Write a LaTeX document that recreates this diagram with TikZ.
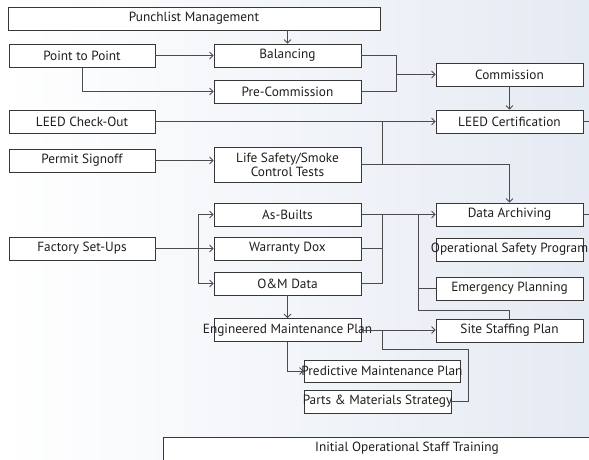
\documentclass[tikz,border=0pt]{standalone}
\usepackage{fontspec}
\setmainfont{PT Sans}
\usetikzlibrary{arrows.meta}
\definecolor{bgblue}{RGB}{216,224,237}
\definecolor{boxline}{RGB}{55,55,55}
\definecolor{conline}{RGB}{75,75,75}
\definecolor{txt}{RGB}{30,30,30}
\pgfdeclarehorizontalshading{bgshade}{100bp}{color(0bp)=(white); color(25bp)=(white); color(100bp)=(bgblue)}
\newcommand{\zw}[1]{\makebox[0pt]{#1}}
\begin{document}
\begin{tikzpicture}[x=1pt,y=-1pt,
  box/.style={draw=boxline, line width=0.8pt, fill=white, minimum width=147pt, minimum height=23pt, inner sep=0pt, text=txt, font=\fontsize{13.3}{14}\selectfont},
  con/.style={draw=conline, line width=0.8pt},
  arr/.style={con, -{Straight Barb[length=3.5pt,width=7pt]}}]
\useasboundingbox (0,0) rectangle (589,460);
\shade[shading=bgshade] (0,0) rectangle (589,460);
% nodes
\node[box, minimum width=372pt] (punch) at (194,18.5) {\zw{Punchlist Management}};
\node[box, minimum width=146pt] (p2p) at (82,55.5) {\zw{Point to Point}};
\node[box] (bal) at (287.5,55.5) {\zw{Balancing}};
\node[box] (precomm) at (287.5,91.5) {\zw{Pre-Commission}};
\node[box] (comm) at (509.5,74.5) {\zw{Commission}};
\node[box] (leedcert) at (509.5,121.5) {\zw{LEED Certification}};
\node[box, minimum width=146pt] (leedco) at (82,121.5) {\zw{LEED Check-Out}};
\node[box, minimum width=146pt] (permit) at (82,160.5) {\zw{Permit Signoff}};
\node[box, minimum height=35pt, align=center] (life) at (287.5,164.5) {Life Safety/Smoke\\Control Tests};
\node[box] (asb) at (287.5,214.5) {\zw{As-Builts}};
\node[box] (warr) at (287.5,248.5) {\zw{Warranty Dox}};
\node[box] (om) at (287.5,283.5) {\zw{O\&M Data}};
\node[box, minimum width=146pt] (factory) at (82,248.5) {\zw{Factory Set-Ups}};
\node[box] (data) at (509.5,214.5) {\zw{Data Archiving}};
\node[box] (opsafe) at (509.5,249.5) {\zw{Operational Safety Program}};
\node[box] (emerg) at (509.5,288.5) {\zw{Emergency Planning}};
\node[box] (site) at (509.5,330.5) {\zw{Site Staffing Plan}};
\node[box] (eng) at (287.5,330) {\zw{Engineered Maintenance Plan}};
\node[box, minimum width=156pt, minimum height=22pt] (pred) at (382,371) {\zw{Predictive Maintenance Plan}};
\node[box] (parts) at (377.5,401.5) {\zw{Parts \& Materials Strategy}};
\node[box, minimum width=488pt] (train) at (407,448.5) {\zw{Initial Operational Staff Training}};
% helper coordinates
\coordinate (xa) at (396,0);
\coordinate (xb) at (382,0);
\coordinate (xc) at (198,0);
\coordinate (xd) at (418,0);
\coordinate (xe) at (468,0);
\coordinate (ys) at (0,310);
\coordinate (yp) at (0,349);
\coordinate (xr) at (600,0);
% connectors
\draw[arr] (punch.south -| bal) -- (bal.north);
\draw[arr] (p2p.east) -- (bal.west);
\draw[arr] (p2p.south) |- (precomm.west);
\draw[con] (bal.east) -| (xa |- precomm) -- (precomm.east);
\draw[arr] (xa |- comm) -- (comm.west);
\draw[arr] (comm.south) -- (leedcert.north);
\draw[arr] (leedco.east) -- (leedcert.west);
\draw[con] (xb |- leedco) -- (xb |- life);
\draw[arr] (life.east) -| (data.north);
\draw[con] (leedcert.east) -- (xr |- leedcert);
\draw[con] (data.east) -- (xr |- data);
\draw[arr] (permit.east) -- (life.west |- permit);
\draw[arr] (factory.east) -- (warr.west);
\draw[arr] (xc |- factory) |- (asb.west);
\draw[arr] (xc |- factory) |- (om.west);
\draw[arr] (asb.east) -- (data.west);
\draw[con] (xb |- asb) |- (om.east);
\draw[con] (warr.east) -- (xb |- warr);
\draw[con] (xd |- asb) |- (emerg.west);
\draw[con] (xd |- emerg) -- (xd |- ys) -| (site.north);
\draw[arr] (om.south) -- (eng.north);
\draw[arr] (eng.east) -- (site.west |- eng);
\draw[con] (xb |- eng) -- (xb |- yp) -| (xe |- parts) -- (parts.east);
\draw[arr] (eng.south) |- (pred.west);
\end{tikzpicture}
\end{document}
